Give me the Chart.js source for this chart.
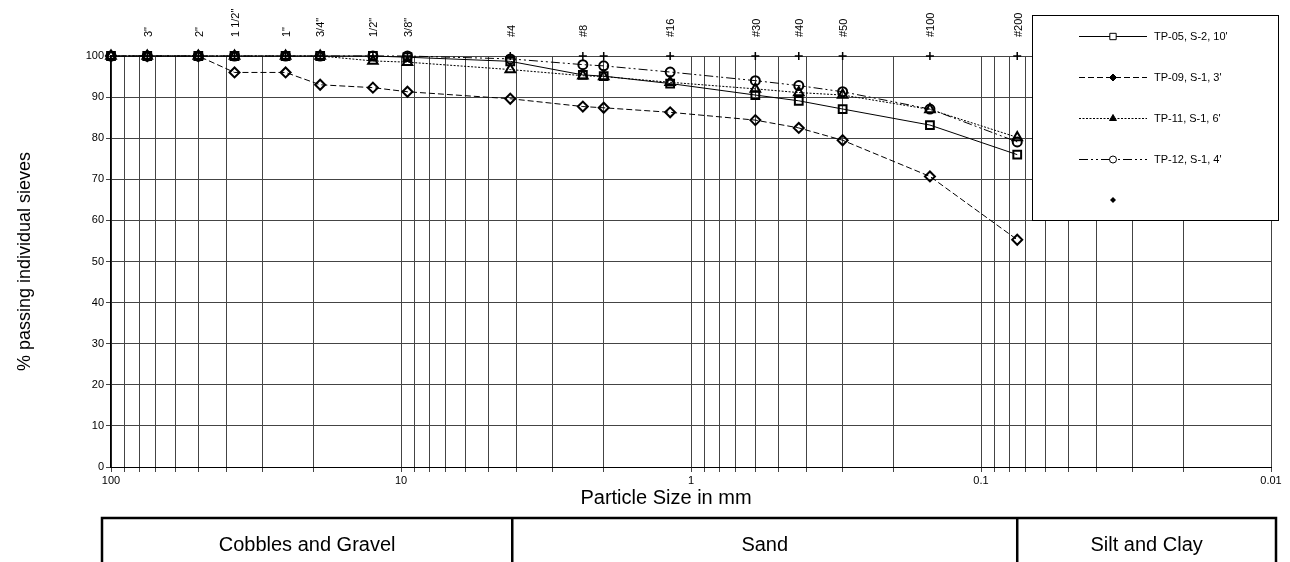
<!DOCTYPE html>
<html><head><meta charset="utf-8">
<script src="https://cdn.jsdelivr.net/npm/chart.js@4.4.1/dist/chart.umd.min.js"></script>
<style>html,body{margin:0;padding:0;background:#fff;}canvas{display:block;}</style>
</head><body>
<canvas id="c" width="1290" height="562"></canvas>
<script>
// ---- data ----
const sieveSizes = [100, 75, 50, 37.5, 25, 19, 12.5, 9.5, 4.2, 2.36, 2.0, 1.18, 0.6, 0.425, 0.3, 0.15, 0.075];
const tp05 = [100, 100, 100, 100, 100, 100, 100, 99.7, 98.7, 95.4, 95.1, 93.3, 90.5, 89.1, 87.1, 83.2, 76.0];
const tp09 = [100, 100, 100, 96.0, 96.0, 93.0, 92.3, 91.3, 89.6, 87.7, 87.4, 86.3, 84.4, 82.5, 79.5, 70.7, 55.3];
const tp11 = [100, 100, 100, 100, 100, 100, 98.8, 98.5, 96.7, 95.2, 95.0, 93.6, 92.0, 91.1, 90.5, 87.0, 80.2];
const tp12 = [100, 100, 100, 100, 100, 100, 100, 100, 99.3, 97.9, 97.6, 96.1, 94.0, 92.8, 91.3, 87.1, 79.1];
const seriesNames = ["TP-05, S-2, 10'", "TP-09, S-1, 3'", "TP-11, S-1, 6'", "TP-12, S-1, 4'"];
const markerSizes = [75, 50, 37.5, 25, 19, 12.5, 9.5, 4.2, 2.36, 2.0, 1.18, 0.6, 0.425, 0.3, 0.15, 0.075];
const markerValues = [100, 100, 100, 100, 100, 100, 100, 100, 100, 100, 100, 100, 100, 100, 100, 100];
const sieveLabelSizes = [75, 50, 37.5, 25, 19, 12.5, 9.5, 4.2, 2.36, 1.18, 0.6, 0.425, 0.3, 0.15, 0.075];
const sieveLabels = ['3"', '2"', '1 1/2"', '1"', '3/4"', '1/2"', '3/8"', '#4', '#8', '#16', '#30', '#40', '#50', '#100', '#200'];
const xDecades = [100, 10, 1, 0.1, 0.01];
const xDecadeLabels = ['100', '10', '1', '0.1', '0.01'];
const yTicks = [0, 10, 20, 30, 40, 50, 60, 70, 80, 90, 100];
const xTitle = 'Particle Size in mm';
const yTitle = '% passing individual sieves';
const classNames = ['Cobbles and Gravel', 'Sand', 'Silt and Clay'];
const classDividers = [4.2, 0.075];

const FONT = 'Arial, "Liberation Sans", sans-serif';

// gridline values: 1..9 x 10^k between 0.01 and 100
const gridValues = [];
for (let e = -2; e <= 1; e++) {
  for (let m = 1; m <= 9; m++) gridValues.push(+(m * Math.pow(10, e)).toPrecision(6));
}
gridValues.push(100);

function pts(arr) { return sieveSizes.map((s, i) => ({x: s, y: arr[i]})); }

const styles = [
  {dash: [], point: 'rect', r: 5.5},
  {dash: [6, 3], point: 'rectRot', r: 5},
  {dash: [2, 1.5], point: 'triangle', r: 5.5},
  {dash: [9, 3, 2, 3, 2, 3], point: 'circle', r: 4.5}
];
const legendMarks = [
  {point: 'rect', r: 4.5, fill: false},
  {point: 'rectRot', r: 3.5, fill: true},
  {point: 'triangle', r: 4, fill: true},
  {point: 'circle', r: 3.5, fill: false}
];
const allSeries = [tp05, tp09, tp11, tp12];

const datasets = allSeries.map((arr, i) => ({
  label: seriesNames[i],
  data: pts(arr),
  borderColor: '#000',
  borderWidth: 1,
  borderDash: styles[i].dash,
  pointStyle: styles[i].point,
  pointRadius: styles[i].r,
  pointBorderWidth: 2,
  pointBorderColor: '#000',
  pointBackgroundColor: 'rgba(0,0,0,0)',
  fill: false,
  tension: 0,
  clip: false
}));
datasets.push({
  label: '',
  data: markerSizes.map((s, i) => ({x: s, y: markerValues[i]})),
  showLine: false,
  pointStyle: 'cross',
  pointRadius: 4,
  pointBorderWidth: 1.5,
  pointBorderColor: '#000',
  borderColor: '#000',
  clip: false
});

const extras = {
  id: 'extras',
  afterDraw(chart) {
    const ctx = chart.ctx;
    const xs = chart.scales.x;
    const ca = chart.chartArea;
    ctx.save();
    // x axis title
    ctx.fillStyle = '#000';
    ctx.font = '20px ' + FONT;
    ctx.textAlign = 'center';
    ctx.textBaseline = 'middle';
    ctx.fillText(xTitle, 666, 498);

    // legend box
    ctx.fillStyle = '#fff';
    ctx.fillRect(1032, 15, 247, 205);
    ctx.strokeStyle = '#000';
    ctx.lineWidth = 1;
    ctx.strokeRect(1032.5, 15.5, 246, 205);
    const rowY = [36, 77, 118, 159, 200];
    for (let i = 0; i < 4; i++) {
      const y = rowY[i] + 0.5;
      ctx.setLineDash(styles[i].dash);
      ctx.beginPath();
      ctx.moveTo(1079, y); ctx.lineTo(1147, y);
      ctx.strokeStyle = '#000'; ctx.lineWidth = 1; ctx.stroke();
      ctx.setLineDash([]);
      ctx.fillStyle = legendMarks[i].fill ? '#000' : '#fff';
      ctx.strokeStyle = '#000';
      Chart.helpers.drawPoint(ctx, {pointStyle: legendMarks[i].point, radius: legendMarks[i].r, borderWidth: 2, rotation: 0}, 1113, y);
      ctx.fillStyle = '#000';
      ctx.font = '11px ' + FONT;
      ctx.textBaseline = 'middle';
      ctx.textAlign = 'left';
      ctx.fillText(seriesNames[i], 1154, y);
    }
    ctx.fillStyle = '#000';
    ctx.beginPath();
    ctx.moveTo(1113, rowY[4] - 3); ctx.lineTo(1116, rowY[4]); ctx.lineTo(1113, rowY[4] + 3); ctx.lineTo(1110, rowY[4]);
    ctx.closePath(); ctx.fill();

    // classification table
    ctx.strokeStyle = '#000';
    ctx.lineWidth = 2.5;
    const top = 518, bot = 570;
    const left = 102, right = 1276;
    const d1 = xs.getPixelForValue(classDividers[0]) + 2;
    const d2 = xs.getPixelForValue(classDividers[1]);
    ctx.beginPath();
    ctx.moveTo(left, bot); ctx.lineTo(left, top); ctx.lineTo(right, top); ctx.lineTo(right, bot);
    ctx.moveTo(d1, top); ctx.lineTo(d1, bot);
    ctx.moveTo(d2, top); ctx.lineTo(d2, bot);
    ctx.stroke();
    ctx.font = '20px ' + FONT;
    ctx.textAlign = 'center';
    ctx.textBaseline = 'middle';
    const bounds = [left, d1, d2, right];
    for (let i = 0; i < 3; i++) {
      ctx.fillText(classNames[i], (bounds[i] + bounds[i + 1]) / 2, 545);
    }
    ctx.restore();
  }
};

new Chart(document.getElementById('c'), {
  type: 'line',
  data: {datasets},
  plugins: [extras],
  options: {
    responsive: false,
    animation: false,
    devicePixelRatio: 1,
    layout: {padding: {left: 0, top: 0, right: 19, bottom: 53}},
    plugins: {legend: {display: false}, tooltip: {enabled: false}},
    scales: {
      x: {
        type: 'logarithmic', position: 'bottom', reverse: true, min: 0.01, max: 100,
        afterBuildTicks: s => { s.ticks = gridValues.map(v => ({value: v})); },
        afterFit: s => { s.height = 42; },
        ticks: {
          autoSkip: false, minRotation: 0, maxRotation: 0, padding: 2, color: '#000',
          font: {size: 11, family: FONT},
          callback: v => { const k = xDecades.findIndex(d => Math.abs(d - v) < d * 1e-6); return k >= 0 ? xDecadeLabels[k] : ''; }
        },
        grid: {color: '#444', lineWidth: 1, tickLength: 5},
        border: {color: '#000', width: 1}
      },
      xTop: {
        type: 'logarithmic', position: 'top', reverse: true, min: 0.01, max: 100,
        afterBuildTicks: s => { s.ticks = sieveLabelSizes.map(v => ({value: v})); },
        afterFit: s => { s.height = 56; },
        ticks: {
          autoSkip: false, minRotation: 90, maxRotation: 90, padding: 19, labelOffset: 14.5, color: '#000',
          font: {size: 11, family: FONT},
          callback: (v, i) => sieveLabels[i]
        },
        grid: {display: false, drawTicks: false},
        border: {display: false}
      },
      y: {
        min: 0, max: 100,
        afterBuildTicks: s => { s.ticks = yTicks.map(v => ({value: v})); },
        afterFit: s => { s.width = 111; },
        ticks: {padding: 2, color: '#000', font: {size: 11, family: FONT}},
        grid: {color: '#444', lineWidth: 1, tickLength: 5},
        border: {color: '#000', width: 1.5},
        title: {display: true, text: yTitle, color: '#000', font: {size: 18, family: FONT}, padding: {top: 14, bottom: 0}}
      }
    }
  }
});
</script>
</body></html>
